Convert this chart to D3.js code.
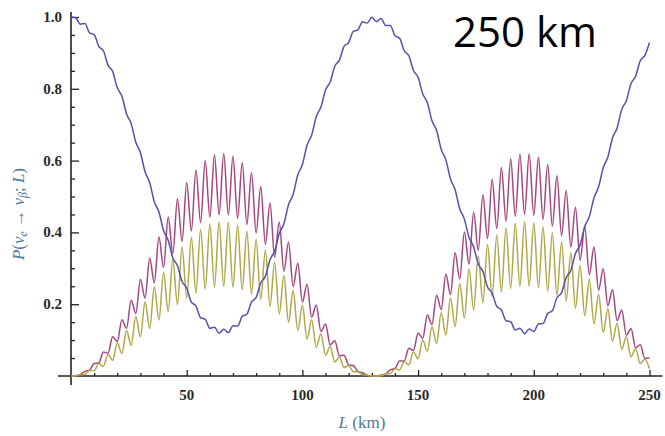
<!DOCTYPE html>
<html>

<head>
    <style>
        body {
            margin: 0;
            background: #fff;
        }

        .tick-label {
            font-family: "Liberation Serif", "DejaVu Serif", serif;
            font-size: 15px;
            font-weight: bold;
            fill: #2a2a2a;
        }

        .axis-title {
            font-family: "Liberation Serif", "DejaVu Serif", serif;
            font-size: 17px;
            fill: #50789a;
        }
    </style>
    <script src="https://cdn.jsdelivr.net/npm/d3@7/dist/d3.min.js"></script>
    <title>250 km</title>
</head>

<body>
    <div id="chart"></div>

    <script>
        // Distance grid (km), one sample every 2 km
        const distanceKm = d3.range(0, 251, 2);

        // P(nu_e -> nu_mu; L), purple
        const probMu = [
            0, .001, .004, .013, .016, .035, .036, .067, .063, .109,
            .096, .157, .133, .211, .174, .269, .217, .328, .260, .387,
            .302, .443, .341, .494, .375, .538, .404, .574, .427, .600,
            .442, .616, .449, .620, .448, .613, .439, .595, .422, .566,
            .398, .528, .367, .482, .331, .429, .292, .373, .249, .314,
            .206, .255, .164, .198, .124, .145, .087, .098, .056, .058,
            .031, .029, .013, .009, .002, 0, 0, .003, .006, .017,
            .021, .042, .042, .077, .071, .120, .105, .170, .143, .225,
            .185, .284, .227, .343, .270, .401, .311, .456, .350, .505,
            .383, .548, .411, .581, .431, .605, .445, .618, .450, .619,
            .447, .609, .436, .589, .417, .558, .391, .517, .359, .470,
            .322, .416, .282, .359, .239, .299, .196, .240, .154, .184,
            .114, .132, .079, .087, .049, .050
        ];

        // P(nu_e -> nu_tau; L), olive
        const probTau = [
            0, .001, .004, .005, .016, .014, .035, .027, .060, .044,
            .092, .063, .127, .085, .166, .109, .207, .132, .248, .156,
            .288, .179, .325, .199, .359, .217, .386, .231, .408, .242,
            .423, .248, .429, .250, .428, .247, .420, .240, .403, .228,
            .380, .213, .351, .194, .317, .173, .279, .150, .238, .127,
            .197, .103, .157, .080, .118, .058, .083, .039, .053, .024,
            .029, .012, .012, .004, .002, 0, 0, .001, .006, .007,
            .020, .017, .040, .031, .067, .048, .100, .069, .137, .091,
            .176, .114, .217, .138, .258, .162, .298, .184, .334, .204,
            .366, .221, .392, .234, .412, .244, .425, .249, .430, .250,
            .427, .246, .416, .237, .398, .225, .373, .209, .343, .189,
            .308, .168, .269, .145, .228, .121, .187, .097, .147, .074,
            .109, .053, .076, .035, .047, .020
        ];

        // P(nu_e -> nu_e; L), blue
        const probE = [
            1, .998, .980, .982, .956, .951, .918, .906, .866, .848,
            .803, .779, .730, .703, .651, .622, .569, .539, .485, .457,
            .405, .378, .329, .307, .263, .245, .206, .195, .162, .158,
            .133, .136, .119, .130, .121, .140, .139, .166, .172, .206,
            .219, .259, .278, .324, .348, .397, .424, .477, .506, .560,
            .589, .643, .671, .723, .749, .797, .819, .863, .880, .918,
            .929, .960, .964, .987, .983, .999, .987, .996, .976, .976,
            .948, .941, .906, .892, .851, .832, .786, .761, .711, .684,
            .631, .602, .549, .519, .465, .437, .386, .360, .312, .291,
            .248, .231, .194, .184, .154, .151, .128, .133, .118, .131,
            .124, .145, .146, .174, .182, .218, .232, .274, .294, .341,
            .365, .416, .444, .496, .527, .580, .610, .663, .691, .742,
            .767, .814, .835, .878, .893, .929
        ];

        const xMajor = [50, 100, 150, 200, 250];
        const xMinor = [10, 20, 30, 40, 60, 70, 80, 90, 110, 120, 130, 140, 160, 170, 180, 190, 210, 220, 230, 240];
        const yMajor = [0.2, 0.4, 0.6, 0.8, 1.0];
        const yMinor = [0.05, 0.1, 0.15, 0.25, 0.3, 0.35, 0.45, 0.5, 0.55, 0.65, 0.7, 0.75, 0.85, 0.9, 0.95];

        const width = 665, height = 436;
        const svg = d3.select("#chart").append("svg")
            .attr("width", width)
            .attr("height", height);

        const x = d3.scaleLinear().domain([0, 250]).range([71, 649.5]);
        const y = d3.scaleLinear().domain([0, 1]).range([376, 17]);

        // axes (Mathematica style: ticks point inward, axes cross at origin)
        const gx = svg.append("g").attr("transform", `translate(0,${y(0)})`);
        gx.call(d3.axisBottom(x).tickValues(xMinor).tickSize(-3).tickFormat(""));
        gx.call(g => g.append("g").call(d3.axisBottom(x).tickValues(xMajor).tickSize(-6).tickFormat("")));
        gx.selectAll(".domain").remove();
        gx.selectAll("line").attr("stroke", "#222").attr("stroke-width", 1.3);
        gx.append("line")
            .attr("x1", x.range()[0] - 13).attr("x2", x.range()[1] + 13)
            .attr("stroke", "#222").attr("stroke-width", 1.6);
        gx.selectAll(".xlab").data(xMajor).enter().append("text")
            .attr("class", "tick-label")
            .attr("x", d => x(d))
            .attr("y", 24)
            .attr("text-anchor", "middle")
            .text(d => d);

        const gy = svg.append("g").attr("transform", `translate(${x(0)},0)`);
        gy.call(d3.axisLeft(y).tickValues(yMinor).tickSize(-4).tickFormat(""));
        gy.call(g => g.append("g").call(d3.axisLeft(y).tickValues(yMajor).tickSize(-8).tickFormat("")));
        gy.selectAll(".domain").remove();
        gy.selectAll("line").attr("stroke", "#222").attr("stroke-width", 1.3);
        gy.append("line")
            .attr("y1", y.range()[1] - 5).attr("y2", y.range()[0] + 9)
            .attr("stroke", "#222").attr("stroke-width", 1.6);
        gy.selectAll(".ylab").data(yMajor).enter().append("text")
            .attr("class", "tick-label")
            .attr("x", -9)
            .attr("y", d => y(d) + 5)
            .attr("text-anchor", "end")
            .text(d3.format(".1f"));

        // curves
        const series = [
            { values: probMu, color: "#a8457c" },
            { values: probTau, color: "#b0a848" },
            { values: probE, color: "#5252b0" }
        ];
        const line = d3.line()
            .x((d, i) => x(distanceKm[i]))
            .y(d => y(d))
            .curve(d3.curveMonotoneX);

        svg.selectAll(".curve").data(series).enter().append("path")
            .attr("class", "curve")
            .attr("fill", "none")
            .attr("stroke", d => d.color)
            .attr("stroke-width", 1.5)
            .attr("d", d => line(d.values));

        // axis titles
        const yt = svg.append("text")
            .attr("class", "axis-title")
            .attr("transform", "translate(24,214) rotate(-90)")
            .attr("text-anchor", "middle");
        yt.append("tspan").attr("font-style", "italic").text("P");
        yt.append("tspan").text("(");
        yt.append("tspan").attr("font-style", "italic").text("ν");
        yt.append("tspan").attr("font-style", "italic").attr("font-size", 12).attr("baseline-shift", "-25%").text("e");
        yt.append("tspan").text(" → ");
        yt.append("tspan").attr("font-style", "italic").text("ν");
        yt.append("tspan").attr("font-style", "italic").attr("font-size", 12).attr("baseline-shift", "-25%").text("β");
        yt.append("tspan").text("; ");
        yt.append("tspan").attr("font-style", "italic").text("L");
        yt.append("tspan").text(")");

        const xt = svg.append("text")
            .attr("class", "axis-title")
            .attr("x", 362)
            .attr("y", 428)
            .attr("text-anchor", "middle");
        xt.append("tspan").attr("font-style", "italic").text("L");
        xt.append("tspan").text(" (km)");

        svg.append("text")
            .attr("x", 453)
            .attr("y", 47)
            .attr("font-family", "'Open Sans', sans-serif")
            .attr("font-size", 42)
            .attr("fill", "#000")
            .text("250 km");
    </script>
</body>

</html>
